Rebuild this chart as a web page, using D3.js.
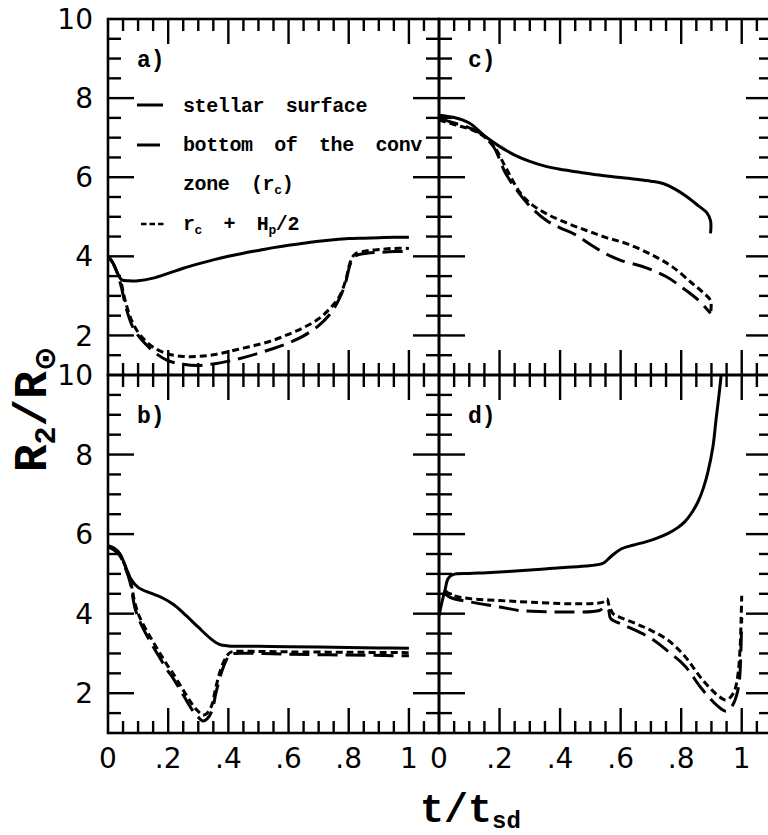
<!DOCTYPE html>
<html><head><meta charset="utf-8">
<script src="https://cdn.jsdelivr.net/npm/d3@7"></script>
<style>body{margin:0;background:#fff} svg{position:absolute;left:0;top:0}</style>
</head><body>
<svg id="c" width="768" height="835" xmlns="http://www.w3.org/2000/svg"></svg>
<svg id="t" width="768" height="835" xmlns="http://www.w3.org/2000/svg"></svg>
<script>
// ---------- data ----------
const xTickValues = [0, 0.2, 0.4, 0.6, 0.8, 1];
const xTickLabels = ["0", ".2", ".4", ".6", ".8", "1"];
const yTickValues = [10, 8, 6, 4, 2];
const yTickLabels = ["10", "8", "6", "4", "2"];
const panelLabels = ["a)", "b)", "c)", "d)"];
const legendLabels = ["stellar surface", "bottom of the conv", "zone (r", "r"];

const aSurface = [[0,4.0],[0.015,3.85],[0.03,3.6],[0.045,3.41],[0.07,3.38],[0.1,3.38],[0.15,3.45],[0.2,3.57],[0.25,3.7],[0.3,3.81],[0.35,3.91],[0.4,4.0],[0.45,4.08],[0.5,4.15],[0.55,4.22],[0.6,4.28],[0.65,4.33],[0.7,4.38],[0.75,4.42],[0.8,4.45],[0.85,4.46],[0.9,4.47],[0.95,4.48],[1.0,4.48]];
const aConv = [[0,4.0],[0.015,3.85],[0.03,3.6],[0.045,3.2],[0.06,2.7],[0.08,2.25],[0.1,2.0],[0.12,1.82],[0.16,1.54],[0.2,1.36],[0.25,1.27],[0.3,1.24],[0.35,1.28],[0.4,1.35],[0.45,1.44],[0.5,1.55],[0.55,1.67],[0.6,1.81],[0.65,1.99],[0.7,2.25],[0.74,2.56],[0.77,2.95],[0.79,3.35],[0.805,3.8],[0.82,4.0],[0.86,4.08],[0.9,4.1],[0.95,4.12],[1.0,4.12]];
const aConvHp = [[0.045,3.3],[0.06,2.8],[0.08,2.35],[0.1,2.08],[0.12,1.9],[0.15,1.7],[0.2,1.53],[0.25,1.47],[0.3,1.47],[0.35,1.51],[0.4,1.59],[0.45,1.68],[0.5,1.77],[0.55,1.88],[0.6,2.03],[0.65,2.2],[0.7,2.42],[0.74,2.7],[0.77,3.0],[0.79,3.4],[0.805,3.85],[0.82,4.05],[0.86,4.14],[0.9,4.17],[0.95,4.2],[1.0,4.2]];

const bSurface = [[0,5.71],[0.02,5.65],[0.04,5.5],[0.06,5.15],[0.075,4.88],[0.1,4.66],[0.14,4.52],[0.18,4.4],[0.22,4.22],[0.26,3.95],[0.3,3.66],[0.34,3.38],[0.37,3.23],[0.4,3.19],[0.5,3.18],[0.6,3.17],[0.7,3.16],[0.8,3.15],[0.9,3.14],[1.0,3.13]];
const bConv = [[0,5.68],[0.02,5.6],[0.04,5.45],[0.06,5.1],[0.073,4.8],[0.09,4.13],[0.106,3.8],[0.14,3.3],[0.173,2.88],[0.2,2.55],[0.216,2.38],[0.24,2.08],[0.262,1.8],[0.28,1.58],[0.295,1.44],[0.316,1.3],[0.33,1.36],[0.345,1.55],[0.36,2.05],[0.382,2.63],[0.405,2.97],[0.42,3.0],[0.5,3.0],[0.6,2.98],[0.8,2.96],[1.0,2.94]];
const bConvHp = [[0,5.7],[0.02,5.62],[0.04,5.47],[0.06,5.15],[0.073,4.88],[0.09,4.25],[0.106,3.9],[0.14,3.42],[0.173,3.0],[0.2,2.67],[0.216,2.5],[0.24,2.2],[0.262,1.93],[0.28,1.72],[0.295,1.58],[0.316,1.45],[0.33,1.5],[0.345,1.7],[0.36,2.2],[0.382,2.75],[0.405,3.02],[0.42,3.05],[0.5,3.05],[0.6,3.04],[0.8,3.03],[1.0,3.02]];

const cSurface = [[0,7.57],[0.05,7.51],[0.1,7.37],[0.15,7.05],[0.2,6.78],[0.25,6.56],[0.3,6.4],[0.35,6.28],[0.4,6.2],[0.46,6.13],[0.52,6.06],[0.59,6.0],[0.65,5.95],[0.7,5.9],[0.74,5.84],[0.78,5.7],[0.82,5.5],[0.855,5.29],[0.885,5.1],[0.897,4.9],[0.897,4.58]];
const cConv = [[0,7.49],[0.05,7.37],[0.1,7.25],[0.135,7.12],[0.18,6.77],[0.22,6.1],[0.265,5.59],[0.3,5.27],[0.354,4.91],[0.4,4.72],[0.45,4.55],[0.5,4.3],[0.55,4.07],[0.6,3.9],[0.68,3.72],[0.75,3.49],[0.8,3.23],[0.856,2.9],[0.897,2.56]];
const cConvHp = [[0,7.45],[0.05,7.33],[0.1,7.22],[0.135,7.1],[0.18,6.8],[0.22,6.25],[0.266,5.63],[0.3,5.35],[0.354,5.08],[0.42,4.85],[0.485,4.66],[0.55,4.48],[0.62,4.32],[0.7,4.05],[0.77,3.74],[0.836,3.32],[0.87,3.1],[0.897,2.88],[0.897,2.56]];

const dSurface = [[0,3.95],[0.01,4.3],[0.02,4.6],[0.03,4.88],[0.046,4.98],[0.1,5.01],[0.157,5.03],[0.265,5.08],[0.375,5.14],[0.485,5.2],[0.53,5.24],[0.545,5.28],[0.57,5.45],[0.6,5.62],[0.64,5.72],[0.68,5.8],[0.72,5.9],[0.757,6.02],[0.79,6.17],[0.813,6.32],[0.836,6.55],[0.856,6.82],[0.873,7.15],[0.888,7.55],[0.905,8.2],[0.915,8.87],[0.925,9.5],[0.932,10.0],[0.936,10.4]];
const dConv = [[0.02,4.5],[0.04,4.4],[0.1,4.3],[0.2,4.17],[0.265,4.08],[0.35,4.05],[0.43,4.04],[0.53,4.08],[0.55,4.17],[0.56,4.1],[0.567,3.88],[0.615,3.7],[0.7,3.38],[0.757,3.05],[0.813,2.68],[0.866,2.13],[0.92,1.68],[0.948,1.55],[0.97,1.7],[0.985,2.0],[0.993,2.38],[0.997,3.0],[1.0,3.9]];
const dConvHp = [[0.02,4.58],[0.03,4.52],[0.05,4.45],[0.1,4.38],[0.2,4.33],[0.3,4.29],[0.43,4.25],[0.52,4.26],[0.545,4.3],[0.555,4.37],[0.562,4.2],[0.575,4.0],[0.594,3.92],[0.65,3.75],[0.7,3.58],[0.757,3.33],[0.813,2.92],[0.866,2.38],[0.92,1.95],[0.948,1.83],[0.965,1.92],[0.977,2.08],[0.988,2.5],[0.995,3.2],[0.998,3.88],[1.0,4.45]];

// ---------- layout ----------
const xDomain = [0, 1.1], yDomain = [1, 10];
const cols = [[108, 439], [439, 772]];
const rows = [[19, 375], [375, 733]];
const xMinor = d3.range(0.05, 1.1, 0.05).filter(v => xTickValues.every(m => Math.abs(m - v) > 1e-6));
const xMajor = xTickValues.filter(v => v > 0);
const yMinor = d3.range(1.5, 10, 0.5).filter(v => Math.abs(v/2 - Math.round(v/2)) > 1e-6);
const yMajor = yTickValues.filter(v => v < 10);

// ---------- ticks (separate overlay svg, drawn first) ----------
const tsvg = d3.select("#t");
[{col:0,row:0},{col:0,row:1},{col:1,row:0},{col:1,row:1}].forEach(p => {
  const [x0, x1] = cols[p.col], [y0, y1] = rows[p.row];
  const x = d3.scaleLinear().domain(xDomain).range([x0, x1]);
  const y = d3.scaleLinear().domain(yDomain).range([y1, y0]);
  const tg = tsvg.append("g").attr("stroke", "#000").attr("stroke-width", 2.4);
  function hTicks(vals, len) {
    [[y0, 1], [y1, -1]].forEach(([yy, dir]) => {
      tg.selectAll(null).data(vals).enter().append("line")
        .attr("x1", d => x(d)).attr("x2", d => x(d))
        .attr("y1", yy).attr("y2", yy + dir * len);
    });
  }
  function vTicks(vals, len) {
    [[x0, 1], [x1, -1]].forEach(([xx, dir]) => {
      tg.selectAll(null).data(vals).enter().append("line")
        .attr("y1", d => y(d)).attr("y2", d => y(d))
        .attr("x1", xx).attr("x2", xx + dir * len);
    });
  }
  hTicks(xMinor, 12); hTicks(xMajor, 25);
  vTicks(yMinor, 13); vTicks(yMajor, 26);
});

// ---------- panels ----------
const svg = d3.select("#c");
const panels = [
  {col:0,row:0,label:panelLabels[0],series:[aSurface,aConv,aConvHp]},
  {col:0,row:1,label:panelLabels[1],series:[bSurface,bConv,bConvHp]},
  {col:1,row:0,label:panelLabels[2],series:[cSurface,cConv,cConvHp]},
  {col:1,row:1,label:panelLabels[3],series:[dSurface,dConv,dConvHp]}
];
const styles = [{dash:null},{dash:"20,8"},{dash:"7,4"}];
const defs = svg.append("defs");
const numFont = "DejaVu Sans, sans-serif";

panels.forEach((p, i) => {
  const [x0, x1] = cols[p.col], [y0, y1] = rows[p.row];
  const xs = d3.scaleLinear().domain(xDomain).range([x0, x1]);
  const ys = d3.scaleLinear().domain(yDomain).range([y1, y0]);
  const g = svg.append("g");

  g.append("rect").attr("x", x0).attr("y", y0).attr("width", x1 - x0).attr("height", y1 - y0)
    .attr("fill", "none").attr("stroke", "#000").attr("stroke-width", 2.6);

  defs.append("clipPath").attr("id", "clip" + i)
    .append("rect").attr("x", x0).attr("y", y0).attr("width", x1 - x0).attr("height", y1 - y0);

  const lineGen = d3.line().x(d => xs(d[0])).y(d => ys(d[1])).curve(d3.curveCatmullRom.alpha(0.5));
  const cg = g.append("g").attr("clip-path", `url(#clip${i})`);
  p.series.forEach((s, k) => {
    const path = cg.append("path").attr("d", lineGen(s)).attr("fill", "none").attr("stroke", "#000")
      .attr("stroke-width", 3).attr("stroke-linejoin", "round");
    if (styles[k].dash) path.attr("stroke-dasharray", styles[k].dash);
  });

  g.append("text").attr("x", x0 + 29).attr("y", y0 + 48)
    .attr("font-family", "Liberation Mono, monospace").attr("font-weight", "bold")
    .attr("font-size", 23).text(p.label);

  if (p.row === 1) {
    g.selectAll(null).data(xTickValues).enter().append("text")
      .attr("x", d => xs(d)).attr("y", 768).attr("text-anchor", "middle")
      .attr("font-family", numFont).attr("font-size", 28)
      .text((d, j) => xTickLabels[j]);
  }
  if (p.col === 0) {
    g.selectAll(null).data(yTickValues).enter().append("text")
      .attr("x", 93).attr("y", d => ys(d)).attr("dy", "0.36em").attr("text-anchor", "end")
      .attr("font-family", numFont).attr("font-size", 28)
      .text((d, j) => yTickLabels[j]);
  }

  if (i === 0) {
    const lg = g.append("g").attr("font-family", "Liberation Mono, monospace").attr("font-weight", "bold")
      .attr("font-size", 20).attr("letter-spacing", -0.4).attr("word-spacing", 10);
    lg.append("path").attr("d", "M137,105H163").attr("stroke", "#000").attr("stroke-width", 3);
    lg.append("path").attr("d", "M137,145H160").attr("stroke", "#000").attr("stroke-width", 3);
    lg.append("path").attr("d", "M141,224H164").attr("stroke", "#000").attr("stroke-width", 2.5).attr("stroke-dasharray", "5.5,3");
    lg.append("text").attr("x", 183).attr("y", 112).text(legendLabels[0]);
    lg.append("text").attr("x", 183).attr("y", 151).text(legendLabels[1]);
    const t3 = lg.append("text").attr("x", 183).attr("y", 190);
    t3.append("tspan").text(legendLabels[2]);
    t3.append("tspan").attr("font-size", 13).attr("dy", 4).text("c");
    t3.append("tspan").attr("dy", -4).text(")");
    const t4 = lg.append("text").attr("x", 183).attr("y", 230);
    t4.append("tspan").text(legendLabels[3]);
    t4.append("tspan").attr("font-size", 13).attr("dy", 4).text("c");
    t4.append("tspan").attr("dy", -4).text(" + H");
    t4.append("tspan").attr("font-size", 13).attr("dy", 4).text("p");
    t4.append("tspan").attr("dy", -4).text("/2");
  }
});

// axis titles
const yt = svg.append("text").attr("transform", "translate(46,472) rotate(-90)")
  .attr("font-family", "Liberation Mono, monospace").attr("font-weight", "bold").attr("font-size", 46);
yt.append("tspan").text("R");
yt.append("tspan").attr("font-size", 30).attr("dy", 9).text("2");
yt.append("tspan").attr("dy", -9).text("/R");
yt.append("tspan").attr("font-size", 30).attr("dy", 9).attr("font-family", "DejaVu Sans").text("⊙");

const xt = svg.append("text").attr("x", 420).attr("y", 822)
  .attr("font-family", "Liberation Mono, monospace").attr("font-weight", "bold").attr("font-size", 40);
xt.append("tspan").text("t/t");
xt.append("tspan").attr("font-size", 24).attr("dy", 6).text("sd");
</script>
</body></html>
